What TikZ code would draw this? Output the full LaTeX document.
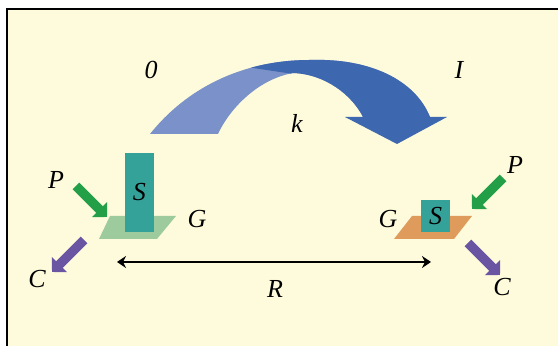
\documentclass[tikz,border=0pt]{standalone}
\usepackage{fontspec}
\setmainfont{Liberation Serif}
\usetikzlibrary{arrows.meta}
\definecolor{Paper}{HTML}{FEFBDC}
\definecolor{Teal}{HTML}{35A29A}
\definecolor{Leaf}{HTML}{9DCB9D}
\definecolor{Clay}{HTML}{DE9B5C}
\definecolor{Push}{HTML}{23A047}
\definecolor{Pull}{HTML}{6955A1}
\definecolor{SkyL}{HTML}{7B91C9}
\definecolor{SkyD}{HTML}{3D67AE}
\newcommand{\hopband}{(150,134) .. controls (185,90) and (240,60) .. (310,60) .. controls (370,58) and (415,80) .. (430,117) -- (363,117) .. controls (352,95) and (325,74) .. (293,73) .. controls (255,80) and (228,112) .. (218,134) -- cycle}
\tikzset{lab/.style={font=\fontsize{13}{15}\selectfont\itshape,inner sep=0pt},sbox/.style={fill=Teal,minimum width=14.5pt,inner sep=0pt,font=\fontsize{13}{15}\selectfont\itshape},blk/.style={line width=4.75pt,-{Triangle[length=5.3pt,width=10.5pt]}},dist/.style={line width=1.2pt,{Stealth[length=4.5pt,width=6pt,inset=1.5pt]}-{Stealth[length=4.5pt,width=6pt,inset=1.5pt]}}}

\begin{document}
\begin{tikzpicture}[x=0.5pt,y=-0.5pt]
\useasboundingbox (0,0) rectangle (558,346);
\fill[Paper] (6.5,9.5) rectangle (558,346);
\draw[line width=1pt] (6.5,346) -- (6.5,9.5) -- (558,9.5);
% hop arrow
\fill[SkyL] \hopband;
\begin{scope}
\clip (240,66) -- (300,75) -- (300,200) -- (600,200) -- (600,0) -- (240,0) -- cycle;
\fill[SkyD] \hopband;
\end{scope}
\fill[SkyD] (345,117) -- (447,117) -- (397,144) -- cycle;
\node[lab] (zero) at (151,70) {0};
\node[lab] (one) at (459,70) {I};
\node[lab] (kk) at (297,123) {k};
% left site
\fill[Leaf] (99,239) -- (157,239) -- (176,216) -- (110,216) -- cycle;
\node[sbox,minimum height=39.5pt] (sL) at (139.5,192.5) {S};
\node[lab] (gL) at (197,219) {G};
\node[lab] (pL) at (56,180) {P};
\node[lab] (cL) at (37,279) {C};
\coordinate (pLt) at (76,186);
\coordinate (pLh) at (107,217);
\coordinate (cLt) at (84,240);
\coordinate (cLh) at (52,272);
\draw[blk,Push] (pLt) -- (pLh);
\draw[blk,Pull] (cLt) -- (cLh);
% right site
\fill[Clay] (394,239) -- (454,239) -- (472,216) -- (412,216) -- cycle;
\node[sbox,minimum height=16pt] (sR) at (435.5,216) {S};
\node[lab] (gR) at (388,219) {G};
\node[lab] (pR) at (515,165) {P};
\node[lab] (cR) at (502,287) {C};
\coordinate (pRt) at (503,178);
\coordinate (pRh) at (472,209);
\coordinate (cRt) at (468,243);
\coordinate (cRh) at (500,275);
\draw[blk,Push] (pRt) -- (pRh);
\draw[blk,Pull] (cRt) -- (cRh);
% distance
\coordinate (rL) at (117,262);
\coordinate (rR) at (431,262);
\draw[dist] (rL) -- (rR);
\node[lab] (rr) at (275,289) {R};
\end{tikzpicture}
\end{document}
